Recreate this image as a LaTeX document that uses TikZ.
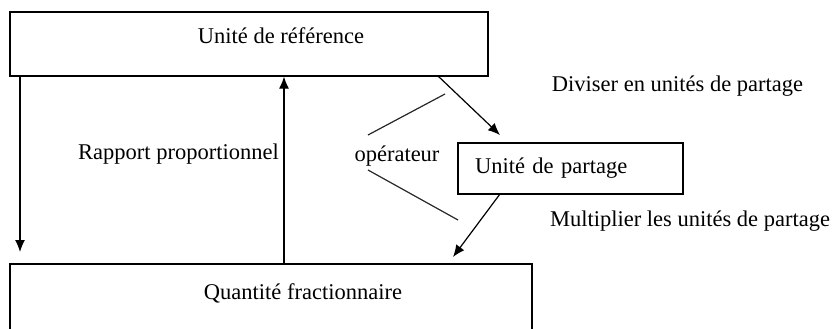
\documentclass[tikz,border=0pt]{standalone}
\usepackage{fontspec}
\setmainfont{Liberation Serif}
\usetikzlibrary{arrows.meta}
\begin{document}
\begin{tikzpicture}[x=1pt,y=-1pt,
  box/.style={draw, line width=1.2pt, inner sep=0pt},
  txt/.style={inner sep=0pt, font=\fontsize{22.5}{27}\selectfont},
  arr/.style={line width=1.2pt, -{Latex[length=12pt,width=10pt]}},
  ln/.style={line width=1.2pt, draw=black!85}]
\useasboundingbox (0,0) rectangle (835,329);
% boxes
\node[box, minimum width=478pt, minimum height=64pt] (ref) at (249,44) {};
\node[box, minimum width=522pt, minimum height=80pt] (quant) at (271,304) {};
\node[box, minimum width=225pt, minimum height=51pt, text width=191pt, inner xsep=17pt, align=left, font=\fontsize{22.5}{27}\selectfont] (part) at (570.5,168.5) {Unité de partage};
% texts
\node[txt] (reft) at (281,36) {Unité de référence};
\node[txt] (quantt) at (303,293) {Quantité fractionnaire};
\node[txt] (rap) at (178.5,154) {Rapport proportionnel};
\node[txt] (op) at (397,156) {opérateur};
\node[txt] (div) at (677.5,86) {Diviser en unités de partage};
\node[txt] (mul) at (690,221) {Multiplier les unités de partage};
% coordinates
\coordinate (a1) at (20,252);
\coordinate (b1) at (438,76);
\coordinate (b2) at (500,135);
\coordinate (c1) at (500,194);
\coordinate (c2) at (453,257);
\coordinate (o1) at (445,94);
\coordinate (o2) at (368,135);
\coordinate (o3) at (368,170);
\coordinate (o4) at (458,220);
% arrows
\draw[arr] (ref.south west -| a1) -- (a1);
\draw[arr] (quant.north -| 284,0) -- (ref.south -| 284,0);
\draw[arr] (b1) -- (b2);
\draw[arr] (c1) -- (c2);
\draw[ln] (o1) -- (o2);
\draw[ln] (o3) -- (o4);
\end{tikzpicture}
\end{document}
